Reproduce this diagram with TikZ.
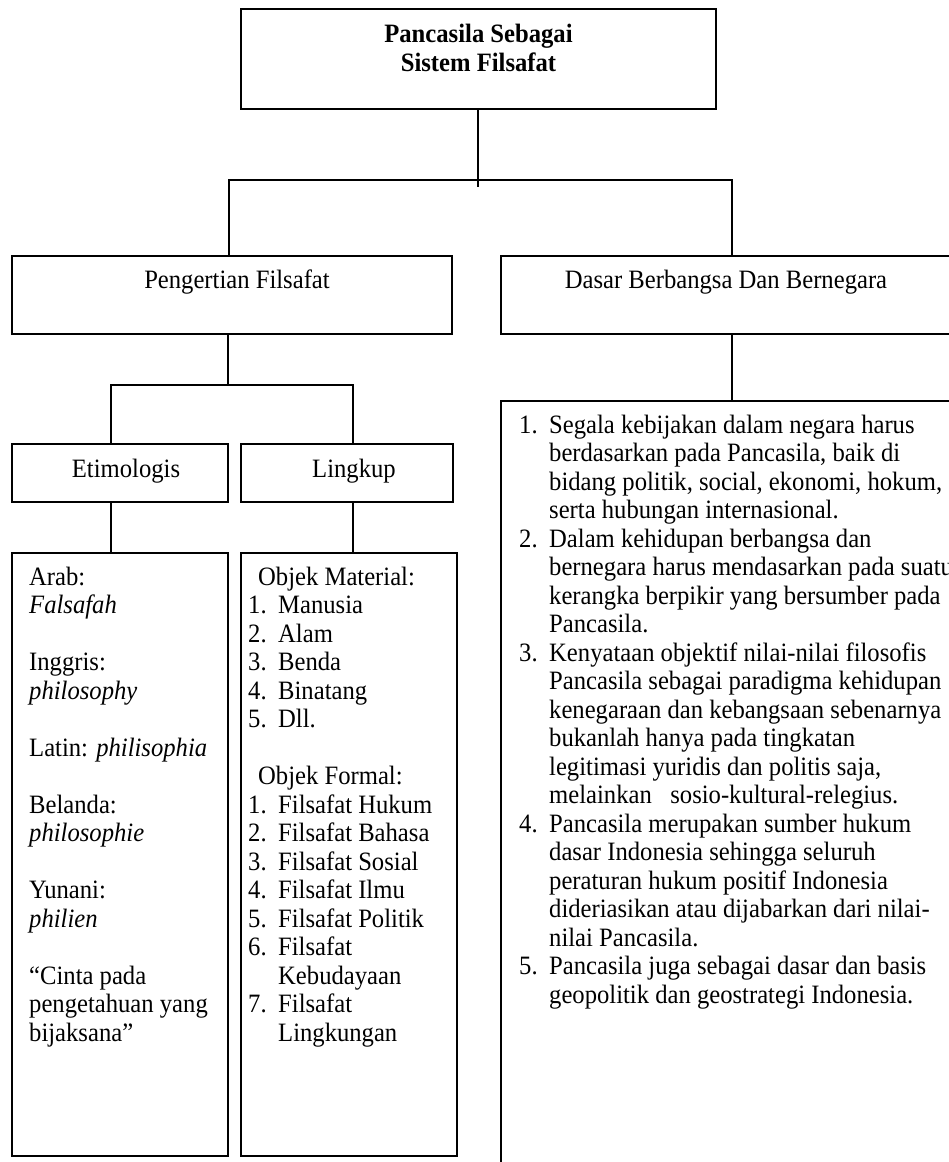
\documentclass[tikz,border=0pt]{standalone}
\usepackage{fontspec}
\setmainfont{Liberation Serif}[FakeStretch=0.93]
\begin{document}
\begin{tikzpicture}[x=1pt,y=-1pt,
  box/.style={draw,line width=1.5pt,inner sep=0pt,outer sep=0pt,anchor=north west},
  conn/.style={line width=1.5pt},
  txt/.style={inner sep=0pt,font=\fontsize{26.5}{28.5}\selectfont},
  lst/.style={txt,align=left,anchor=north west}]
\clip (0,0) rectangle (949,1162);
\fill[white] (0,0) rectangle (949,1162);
% boxes
\node[box,minimum width=475pt,minimum height=100pt] (top) at (241,9) {};
\node[box,minimum width=440pt,minimum height=78pt] (peng) at (12,256) {};
\node[box,minimum width=450pt,minimum height=78pt] (dasar) at (501,256) {};
\node[box,minimum width=216pt,minimum height=58pt] (etim) at (12,444) {};
\node[box,minimum width=212pt,minimum height=58pt] (ling) at (241,444) {};
\node[box,minimum width=216pt,minimum height=603pt] (etimc) at (12,553) {};
\node[box,minimum width=216pt,minimum height=603pt] (lingc) at (241,553) {};
\node[box,minimum width=470pt,minimum height=800pt] (dasarc) at (501,401) {};
% junction coordinates
\coordinate (a0) at (478,187);
\coordinate (a1) at (229,180);
\coordinate (a2) at (732,180);
\coordinate (b0) at (228,385);
\coordinate (b1) at (111,385);
\coordinate (b2) at (353,385);
% connectors
\draw[conn] (a0 |- top.south) -- (a0);
\draw[conn] (peng.north -| a1) |- (a2) -- (a2 |- dasar.north);
\draw[conn] (peng.south -| b0) -- (b0);
\draw[conn] (etim.north -| b1) |- (b2) -- (b2 |- ling.north);
\draw[conn] (etim.south -| b1) -- (etimc.north -| b1);
\draw[conn] (ling.south -| b2) -- (lingc.north -| b2);
\draw[conn] (dasar.south -| a2) -- (dasarc.north -| a2);
% texts
\node[txt,align=center,anchor=north,font=\fontsize{26.5}{29}\selectfont\bfseries] (ttop) at (478.5,22)
  {\rule{0pt}{20pt}Pancasila Sebagai\\Sistem Filsafat};
\node[txt,anchor=base] (tpeng) at (237,288) {Pengertian Filsafat};
\node[txt,anchor=base] (tdasar) at (726,288) {Dasar Berbangsa Dan Bernegara};
\node[txt,anchor=base] (tetim) at (126,477) {Etimologis};
\node[txt,anchor=base] (tling) at (354,477) {Lingkup};
\node[lst] (tetimc) at (29,565) {\rule{0pt}{20pt}Arab:\\
  \textit{Falsafah}\\
  \\
  Inggris:\\
  \textit{philosophy}\\
  \\
  Latin: \textit{philisophia}\\
  \\
  Belanda:\\
  \textit{philosophie}\\
  \\
  Yunani:\\
  \textit{philien}\\
  \\
  ``Cinta pada\\
  pengetahuan yang\\
  bijaksana''};
\node[lst] (tlingc) at (248,565) {\rule{0pt}{20pt}\hspace*{10pt}Objek Material:\\
  \makebox[30pt][l]{1.}Manusia\\
  \makebox[30pt][l]{2.}Alam\\
  \makebox[30pt][l]{3.}Benda\\
  \makebox[30pt][l]{4.}Binatang\\
  \makebox[30pt][l]{5.}Dll.\\
  \\
  \hspace*{10pt}Objek Formal:\\
  \makebox[30pt][l]{1.}Filsafat Hukum\\
  \makebox[30pt][l]{2.}Filsafat Bahasa\\
  \makebox[30pt][l]{3.}Filsafat Sosial\\
  \makebox[30pt][l]{4.}Filsafat Ilmu\\
  \makebox[30pt][l]{5.}Filsafat Politik\\
  \makebox[30pt][l]{6.}Filsafat\\
  \hspace*{30pt}Kebudayaan\\
  \makebox[30pt][l]{7.}Filsafat\\
  \hspace*{30pt}Lingkungan};
\node[lst] (tdasarc) at (519,413) {\rule{0pt}{20pt}\makebox[30pt][l]{1.}Segala kebijakan dalam negara harus\\
  \hspace*{30pt}berdasarkan pada Pancasila, baik di\\
  \hspace*{30pt}bidang politik, social, ekonomi, hokum,\\
  \hspace*{30pt}serta hubungan internasional.\\
  \makebox[30pt][l]{2.}Dalam kehidupan berbangsa dan\\
  \hspace*{30pt}bernegara harus mendasarkan pada suatu\\
  \hspace*{30pt}kerangka berpikir yang bersumber pada\\
  \hspace*{30pt}Pancasila.\\
  \makebox[30pt][l]{3.}Kenyataan objektif nilai-nilai filosofis\\
  \hspace*{30pt}Pancasila sebagai paradigma kehidupan\\
  \hspace*{30pt}kenegaraan dan kebangsaan sebenarnya\\
  \hspace*{30pt}bukanlah hanya pada tingkatan\\
  \hspace*{30pt}legitimasi yuridis dan politis saja,\\
  \hspace*{30pt}melainkan \ \ sosio-kultural-relegius.\\
  \makebox[30pt][l]{4.}Pancasila merupakan sumber hukum\\
  \hspace*{30pt}dasar Indonesia sehingga seluruh\\
  \hspace*{30pt}peraturan hukum positif Indonesia\\
  \hspace*{30pt}dideriasikan atau dijabarkan dari nilai-\\
  \hspace*{30pt}nilai Pancasila.\\
  \makebox[30pt][l]{5.}Pancasila juga sebagai dasar dan basis\\
  \hspace*{30pt}geopolitik dan geostrategi Indonesia.};
\end{tikzpicture}
\end{document}
